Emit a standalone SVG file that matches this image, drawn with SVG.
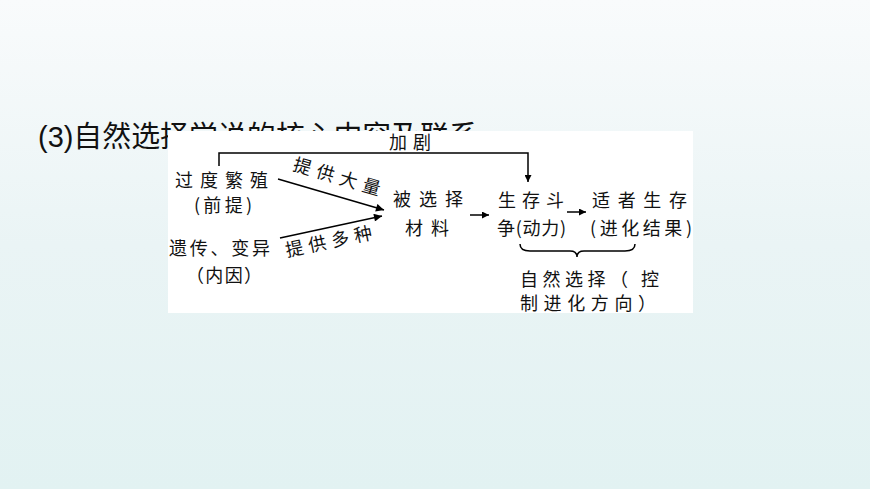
<svg xmlns="http://www.w3.org/2000/svg" width="870" height="489" viewBox="0 0 870 489">
<defs>
<linearGradient id="bg" x1="0" y1="0" x2="0" y2="1">
<stop offset="0" stop-color="#f9fbfc"/>
<stop offset="0.5" stop-color="#eaf4f5"/>
<stop offset="1" stop-color="#e2f2f2"/>
</linearGradient>
<marker id="ah" viewBox="0 0 10 10" refX="10" refY="5" markerWidth="9" markerHeight="7" markerUnits="userSpaceOnUse" orient="auto">
<path d="M0,0 L10,5 L0,10 Z" fill="#000"/>
</marker>
<marker id="ahs" viewBox="0 0 10 10" refX="10" refY="5" markerWidth="10" markerHeight="8" markerUnits="userSpaceOnUse" orient="auto">
<path d="M0,0 L10,5 L0,10 Z" fill="#000"/>
</marker>
</defs>
<style>
.t{font-family:"Noto Sans CJK SC","Liberation Sans",sans-serif;font-size:18px;fill:#111;}
.title{font-family:"Liberation Sans","Noto Sans CJK SC",sans-serif;font-size:29px;fill:#111;}
.ln{stroke:#000;stroke-width:1.5;fill:none;}
</style>
<rect width="870" height="489" fill="url(#bg)"/>
<text class="title" x="38" y="147" textLength="440" lengthAdjust="spacingAndGlyphs">(3)自然选择学说的核心内容及联系</text>
<rect x="168" y="131" width="525" height="182" fill="#fff"/>
<g id="connectors">
<path class="ln" d="M219,166 V153 H528 V182" marker-end="url(#ah)"/>
<line class="ln" x1="278" y1="179" x2="384" y2="210" stroke-width="2" marker-end="url(#ahs)"/>
<line class="ln" x1="280" y1="238" x2="382" y2="216" stroke-width="2" marker-end="url(#ahs)"/>
<line class="ln" x1="470" y1="215" x2="489" y2="215" marker-end="url(#ah)"/>
<line class="ln" x1="567" y1="212" x2="586" y2="212" marker-end="url(#ah)"/>
<path class="ln" stroke-width="1.2" d="M520,244 Q520,251 530,251 L570,251 Q577,251 577,257 Q577,251 584,251 L625,251 Q635,251 635,244"/>
<text class="t" x="389" y="149" textLength="42" lengthAdjust="spacing">加剧</text>
<text class="t" transform="translate(292,170) rotate(16.5)" textLength="90" lengthAdjust="spacing">提供大量</text>
<text class="t" transform="translate(287,257) rotate(-12)" textLength="88" lengthAdjust="spacing">提供多种</text>
</g>
<g id="n1">
<text class="t" x="175" y="187" textLength="93" lengthAdjust="spacing">过度繁殖</text>
<text class="t" x="194" y="212" textLength="58" lengthAdjust="spacing">(前提)</text>
</g>
<g id="n2">
<text class="t" x="169" y="255" textLength="101" lengthAdjust="spacing">遗传、变异</text>
<text class="t" x="186" y="282" textLength="76" lengthAdjust="spacing">（内因）</text>
</g>
<g id="n3">
<text class="t" x="393" y="206" textLength="70" lengthAdjust="spacing">被选择</text>
<text class="t" x="405" y="235" textLength="44" lengthAdjust="spacing">材料</text>
</g>
<g id="n4">
<text class="t" x="498" y="207" textLength="66" lengthAdjust="spacing">生存斗</text>
<text class="t" x="497" y="235" textLength="69" lengthAdjust="spacing">争(动力)</text>
</g>
<g id="n5">
<text class="t" x="592" y="207" textLength="95" lengthAdjust="spacing">适者生存</text>
<text class="t" x="590" y="235" textLength="102" lengthAdjust="spacing">(进化结果)</text>
</g>
<g id="n6">
<text class="t" x="520" y="286" textLength="139" lengthAdjust="spacing">自然选择（ 控</text>
<text class="t" x="520" y="310" textLength="136" lengthAdjust="spacing">制进化方向）</text>
</g>
</svg>
